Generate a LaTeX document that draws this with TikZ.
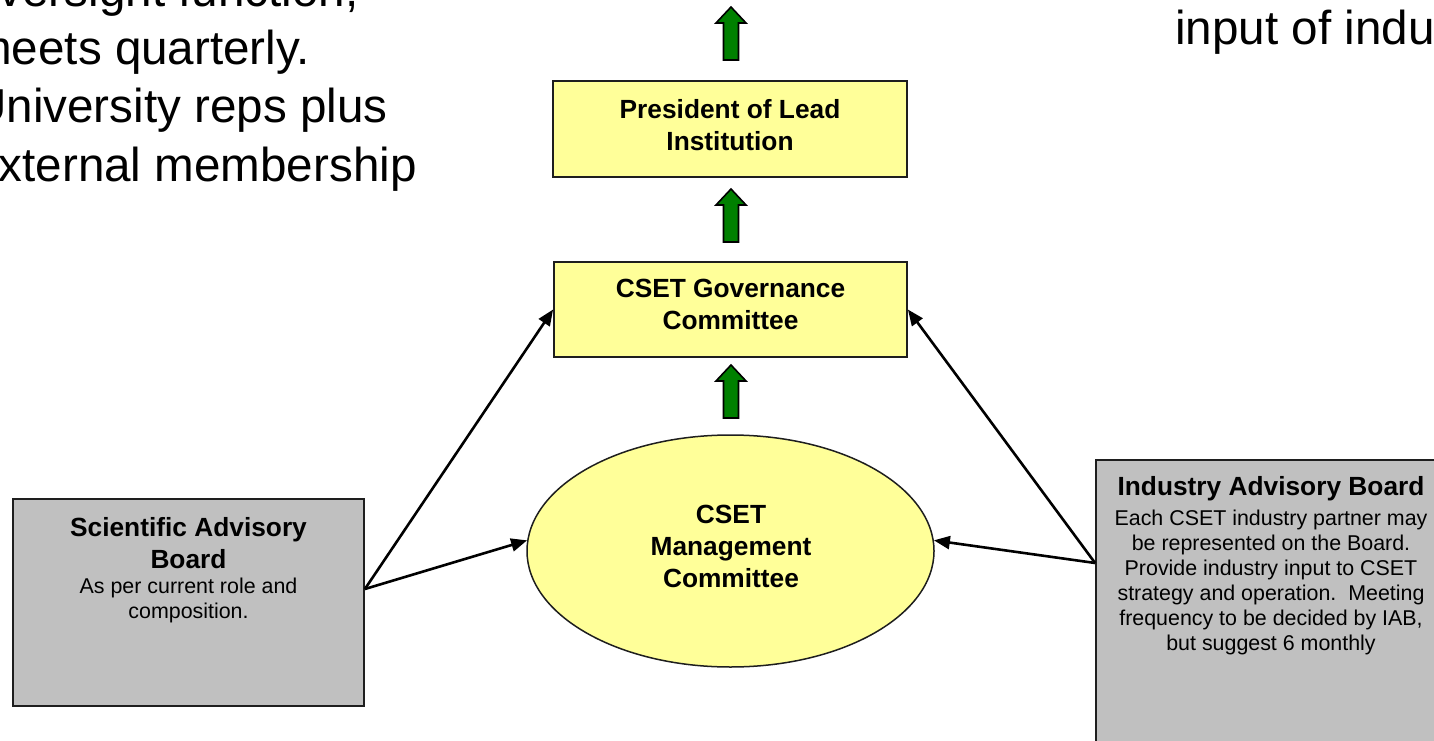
\documentclass[tikz,border=0pt]{standalone}
\usepackage{fontspec}
\setmainfont{Liberation Sans}
\usetikzlibrary{arrows.meta,shapes.geometric}
\definecolor{boxyellow}{RGB}{255,255,153}
\definecolor{boxgray}{RGB}{192,192,192}
\definecolor{arrowgreen}{RGB}{0,128,0}
\definecolor{edgecol}{RGB}{30,30,30}
\begin{document}
\begin{tikzpicture}[x=1pt,y=-1pt,
  ybox/.style={draw=edgecol, line width=1.8pt, fill=boxyellow, inner sep=0pt},
  gbox/.style={draw=edgecol, line width=1.8pt, fill=boxgray, inner sep=0pt},
  btext/.style={font=\bfseries\fontsize{26.3}{32}\selectfont, align=center, inner sep=0pt, anchor=base},
  rtext/.style={font=\fontsize{21.4}{25}\selectfont, align=center, inner sep=0pt, anchor=base},
  bigtext/.style={font=\fontsize{47.6}{58.3}\selectfont, align=left, inner sep=0pt, anchor=base west},
  link/.style={line width=2.6pt, draw=black, -{Triangle[length=16pt,width=13pt]}},
  garrow/.pic={\draw[fill=arrowgreen, draw=black, line width=1.6pt, line join=miter]
     (-7.5,53) -- (-7.5,16) -- (-15,16) -- (0,0) -- (15,16) -- (7.5,16) -- (7.5,53) -- cycle;}
]
\useasboundingbox (0,0) rectangle (1434,741);

% free text (base anchor = baseline of the last line)
\node[bigtext] (note) at (-28,181) {oversight function,\\meets quarterly.\\University reps plus\\external membership};
\node[bigtext] (note2) at (1175,45) {input of industry};

% boxes
\node[ybox, minimum width=354pt, minimum height=96pt] (pres) at (730,129) {};
\node[btext] (prest) at (730,150) {President of Lead\\Institution};

\node[ybox, minimum width=353pt, minimum height=95pt] (gov) at (730.5,309.5) {};
\node[btext] (govt) at (730.5,329) {CSET Governance\\Committee};

\node[ybox, ellipse, line width=1.5pt, minimum width=407pt, minimum height=232pt] (mgmt) at (730.5,551) {};
\node[btext] (mgmtt) at (731,587) {CSET\\Management\\Committee};

\node[gbox, minimum width=351pt, minimum height=207pt] (sab) at (188.5,602.5) {};
\node[btext] (sabt) at (188.5,568) {Scientific Advisory\\Board};
\node[rtext] (sabb) at (188.5,618) {As per current role and\\composition.};

\node[gbox, minimum width=350pt, minimum height=340pt] (iab) at (1271,630) {};
\node[btext] (iabt) at (1271,495) {Industry Advisory Board};
\node[rtext] (iabb) at (1271,650) {Each CSET industry partner may\\be represented on the Board.\\Provide industry input to CSET\\strategy and operation.\ \ Meeting\\frequency to be decided by IAB,\\but suggest 6 monthly};

% connectors
\draw[link] ([yshift=13.5pt]sab.east) -- (gov.west);
\draw[link] ([yshift=13.5pt]sab.east) -- (mgmt.177.5);
\draw[link] ([yshift=67pt]iab.west) -- (gov.east);
\draw[link] ([yshift=67pt]iab.west) -- (mgmt.3.6);

% green block arrows
\pic at (731,7) {garrow};
\pic at (731,189) {garrow};
\pic at (731,365) {garrow};
\end{tikzpicture}
\end{document}
